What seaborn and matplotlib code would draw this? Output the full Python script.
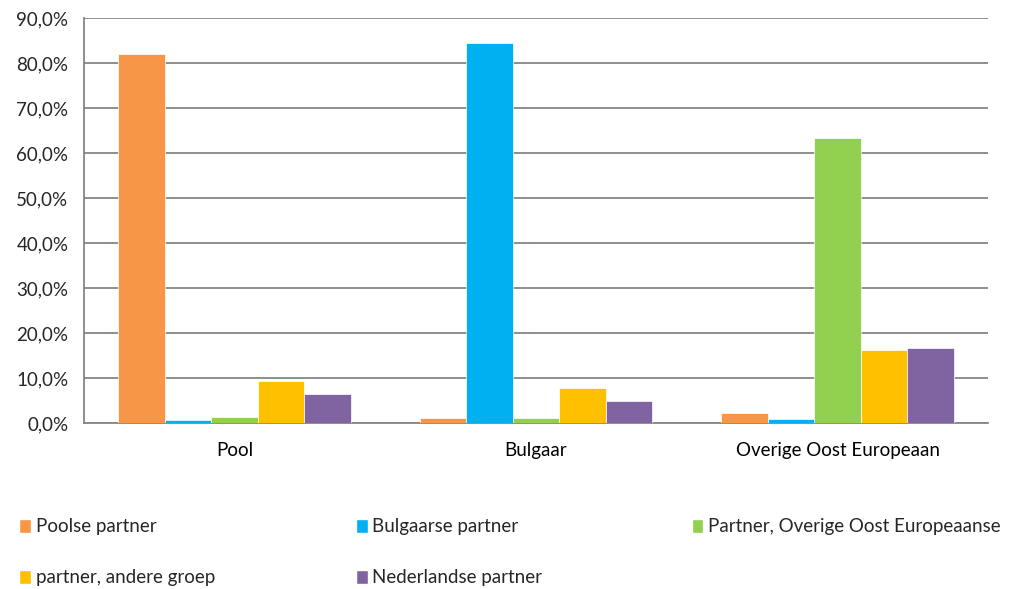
import matplotlib
matplotlib.use("Agg")
import matplotlib.pyplot as plt
import pandas as pd
import seaborn as sns
from matplotlib.ticker import FuncFormatter, MultipleLocator
from matplotlib.patches import Patch

# data (percentages)
categories = ['Pool', 'Bulgaar', 'Overige Oost Europeaan']
series = ['Poolse partner', 'Bulgaarse partner', 'Partner, Overige Oost Europeaanse',
          'partner, andere groep', 'Nederlandse partner']
poolse = [82.0, 1.2, 2.2]
bulgaarse = [0.6, 84.4, 0.9]
overige = [1.3, 1.1, 63.3]
andere = [9.4, 7.8, 16.3]
nederlandse = [6.4, 4.8, 16.6]
colors = ['#F79646', '#00B0F0', '#92D050', '#FFC000', '#8064A2']

vals = [poolse, bulgaarse, overige, andere, nederlandse]
rows = []
for s, v in zip(series, vals):
    for c, x in zip(categories, v):
        rows.append({'groep': c, 'partner': s, 'pct': x})
df = pd.DataFrame(rows)

sns.set_style("white")
plt.rcParams['font.family'] = ['Lato', 'DejaVu Sans']
fs = 13.5

fig = plt.figure(figsize=(10.2, 5.89), dpi=100)
ax = fig.add_axes([0.082, 0.282, 0.887, 0.687])

sns.barplot(data=df, x='groep', y='pct', hue='partner', order=categories,
            hue_order=series, palette=colors, width=0.77, gap=0,
            saturation=1, legend=False, ax=ax, errorbar=None, zorder=3,
            linewidth=0.5, edgecolor='white')

ax.set_ylim(0, 90)
ax.set_xlim(-0.5, 2.5)
ax.yaxis.set_major_locator(MultipleLocator(10))
ax.yaxis.set_major_formatter(FuncFormatter(lambda v, p: f"{v:.1f}%".replace('.', ',')))
ax.grid(axis='y', color='#868686', linewidth=1.3, zorder=0)
ax.set_axisbelow(True)

ax.set_xticks([0, 1, 2])
ax.set_xticklabels(categories)
ax.set_xticks([-0.5, 0.5, 1.5, 2.5], minor=True)
ax.tick_params(axis='x', which='major', length=0, pad=14, labelsize=fs, colors='black')
ax.tick_params(axis='x', which='minor', length=7, width=1.3, color='#868686')
ax.tick_params(axis='y', length=7, width=1.3, color='#868686', labelsize=fs, pad=4)
ax.set_xlabel('')
ax.set_ylabel('')

for side in ['top', 'right']:
    ax.spines[side].set_visible(False)
for side in ['left', 'bottom']:
    ax.spines[side].set_color('#868686')
    ax.spines[side].set_linewidth(1.3)

# legend, row-wise in three columns
handles = [Patch(facecolor=c, label=s) for c, s in zip(colors, series)]
col_groups = [[0, 3], [1, 4], [2]]
col_x = [0.019, 0.349, 0.678]
for gx, idx in zip(col_x, col_groups):
    leg = fig.legend(handles=[handles[i] for i in idx], loc='upper left',
                     bbox_to_anchor=(gx, 0.12), frameon=False, fontsize=fs,
                     handlelength=0.62, handleheight=0.75, handletextpad=0.25,
                     labelspacing=1.82, borderaxespad=0, borderpad=0)

fig.savefig('out.png', dpi=100)
